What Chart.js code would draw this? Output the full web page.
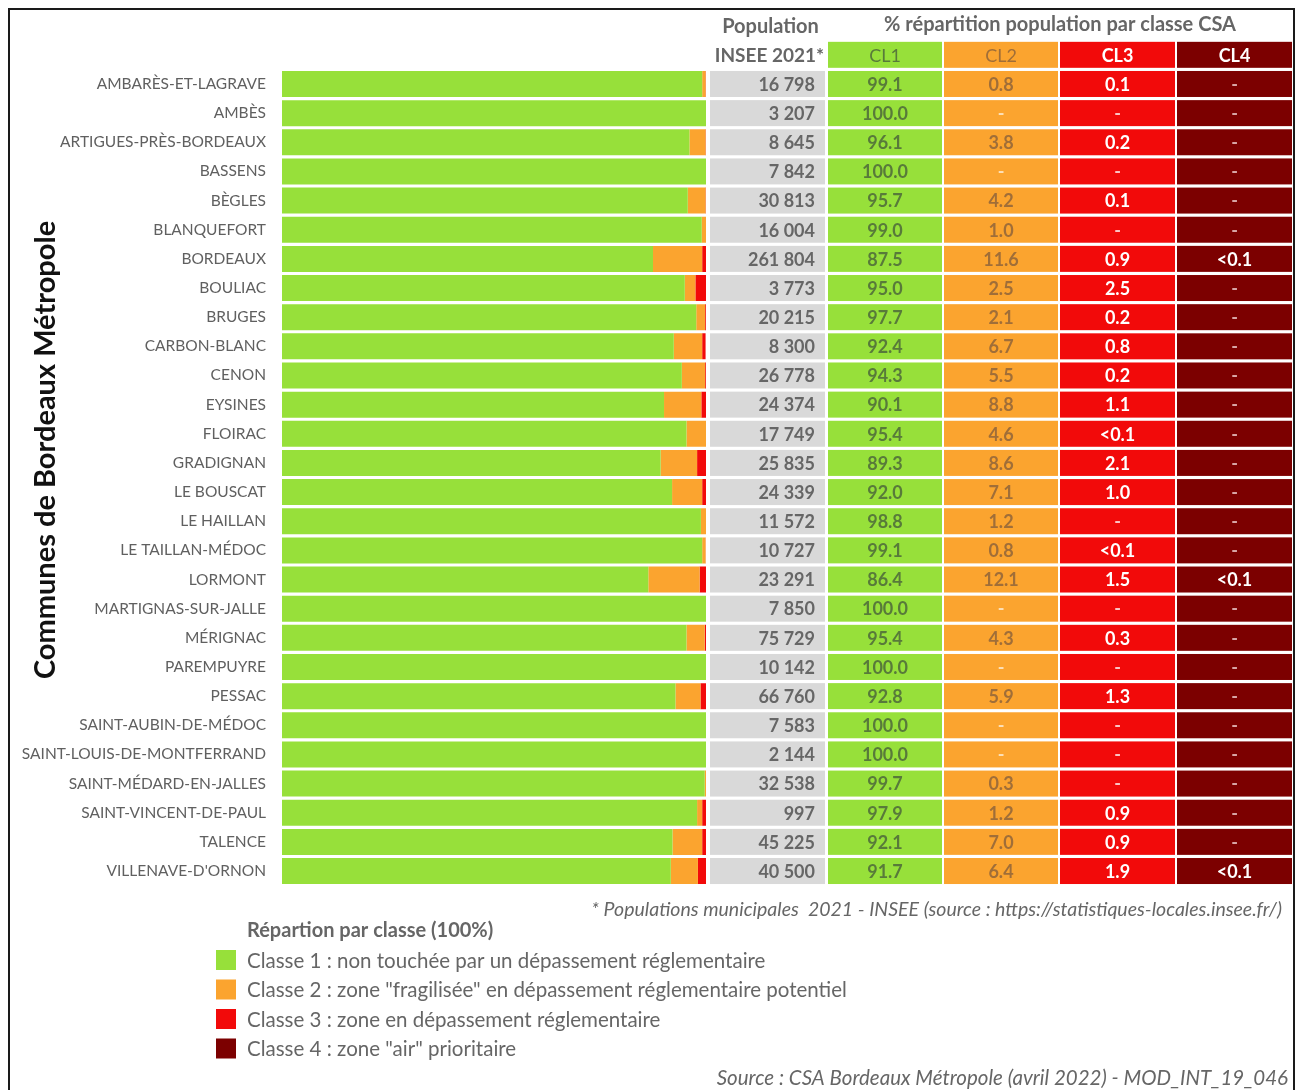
<!DOCTYPE html>
<html lang="fr">
<head>
<meta charset="utf-8">
<title>Communes de Bordeaux Métropole - répartition par classe CSA</title>
<script src="https://cdn.jsdelivr.net/npm/chart.js@4/dist/chart.umd.min.js"></script>
<style>
  html, body { margin: 0; padding: 0; background: #fff; }
  #chart { display: block; }
</style>
</head>
<body>
<canvas id="chart" width="1298" height="1090"></canvas>
<script>
const communes = [
  'AMBARÈS-ET-LAGRAVE', 'AMBÈS', 'ARTIGUES-PRÈS-BORDEAUX', 'BASSENS', 'BÈGLES',
  'BLANQUEFORT', 'BORDEAUX', 'BOULIAC', 'BRUGES', 'CARBON-BLANC', 'CENON',
  'EYSINES', 'FLOIRAC', 'GRADIGNAN', 'LE BOUSCAT', 'LE HAILLAN', 'LE TAILLAN-MÉDOC',
  'LORMONT', 'MARTIGNAS-SUR-JALLE', 'MÉRIGNAC', 'PAREMPUYRE', 'PESSAC',
  'SAINT-AUBIN-DE-MÉDOC', 'SAINT-LOUIS-DE-MONTFERRAND', 'SAINT-MÉDARD-EN-JALLES',
  'SAINT-VINCENT-DE-PAUL', 'TALENCE', "VILLENAVE-D'ORNON"
];

const population = [
  16798, 3207, 8645, 7842, 30813, 16004, 261804, 3773, 20215, 8300, 26778,
  24374, 17749, 25835, 24339, 11572, 10727, 23291, 7850, 75729, 10142, 66760,
  7583, 2144, 32538, 997, 45225, 40500
];

// % of population per CSA class; null = "-", 0.05 = "<0.1"
const cl1 = [
  99.1, 100.0, 96.1, 100.0, 95.7, 99.0, 87.5, 95.0, 97.7, 92.4, 94.3,
  90.1, 95.4, 89.3, 92.0, 98.8, 99.1, 86.4, 100.0, 95.4, 100.0, 92.8,
  100.0, 100.0, 99.7, 97.9, 92.1, 91.7
];
const cl2 = [
  0.8, null, 3.8, null, 4.2, 1.0, 11.6, 2.5, 2.1, 6.7, 5.5,
  8.8, 4.6, 8.6, 7.1, 1.2, 0.8, 12.1, null, 4.3, null, 5.9,
  null, null, 0.3, 1.2, 7.0, 6.4
];
const cl3 = [
  0.1, null, 0.2, null, 0.1, null, 0.9, 2.5, 0.2, 0.8, 0.2,
  1.1, 0.05, 2.1, 1.0, null, 0.05, 1.5, null, 0.3, null, 1.3,
  null, null, null, 0.9, 0.9, 1.9
];
const cl4 = [
  null, null, null, null, null, null, 0.05, null, null, null, null,
  null, null, null, null, null, null, 0.05, null, null, null, null,
  null, null, null, null, null, 0.05
];

const classHeaders = ['CL1', 'CL2', 'CL3', 'CL4'];
const classLabels = [
  'Classe 1 : non touchée par un dépassement réglementaire',
  'Classe 2 : zone "fragilisée" en dépassement réglementaire potentiel',
  'Classe 3 : zone en dépassement réglementaire',
  'Classe 4 : zone "air" prioritaire'
];
const classColors = ['#97E03A', '#FBA42F', '#F20A0A', '#7C0000'];
const classTextColors = ['#587A3A', '#A06E38', '#FFFFFF', '#FFFFFF'];
const dashColors = ['#E8F7D2', '#FCE0B8', '#FBC7C7', '#D9A8A8'];

const FONT = 'Lato, "Open Sans", sans-serif';
const GREY_TEXT = '#666666';

const formatPct = (v) => (v == null ? '-' : v < 0.1 ? '<0.1' : v.toFixed(1));
const formatPop = (n) => String(n).replace(/\B(?=(\d{3})+(?!\d))/g, ' ');

// table columns to the right of the bars: population + one column per class
const popCol = { x: 710, w: 115 };
const classCols = [
  { x: 828, w: 114 },
  { x: 944, w: 114 },
  { x: 1060, w: 115 },
  { x: 1177, w: 115 }
];
const ROW_H = 26;

const tablePlugin = {
  id: 'csaTable',
  beforeDraw(chart) {
    const { ctx, width, height } = chart;
    ctx.save();
    ctx.fillStyle = '#fff';
    ctx.fillRect(0, 0, width, height);
    ctx.restore();
  },
  afterDraw(chart) {
    const { ctx } = chart;
    const yScale = chart.scales.y;
    const step = yScale.getPixelForValue(1) - yScale.getPixelForValue(0);
    const series = [cl1, cl2, cl3, cl4];

    ctx.save();
    ctx.textBaseline = 'middle';

    // header rows
    const headY = yScale.getPixelForValue(0) - step;
    ctx.fillStyle = GREY_TEXT;
    ctx.textAlign = 'center';
    ctx.font = `bold 20px ${FONT}`;
    ctx.fillText('Population', popCol.x + popCol.w / 2 + 3, 27);
    ctx.fillText('% répartition population par classe CSA', 1060, 25);
    ctx.font = `bold 19px ${FONT}`;
    ctx.fillText('INSEE 2021*', popCol.x + popCol.w / 2 + 2, headY + 1);

    classCols.forEach((col, c) => {
      ctx.fillStyle = classColors[c];
      ctx.fillRect(col.x, headY - ROW_H / 2, col.w, ROW_H);
      ctx.fillStyle = classTextColors[c];
      ctx.font = `${c >= 2 ? 'bold ' : ''}18px ${FONT}`;
      ctx.fillText(classHeaders[c], col.x + col.w / 2, headY + 1);
    });

    // one table row per commune, aligned on the bar rows
    communes.forEach((name, i) => {
      const yc = yScale.getPixelForValue(i);
      const top = yc - ROW_H / 2;

      ctx.fillStyle = '#D9D9D9';
      ctx.fillRect(popCol.x, top, popCol.w, ROW_H);
      ctx.fillStyle = GREY_TEXT;
      ctx.font = `bold 18px ${FONT}`;
      ctx.textAlign = 'right';
      ctx.fillText(formatPop(population[i]), popCol.x + popCol.w - 10, yc + 1);

      ctx.textAlign = 'center';
      classCols.forEach((col, c) => {
        const v = series[c][i];
        ctx.fillStyle = classColors[c];
        ctx.fillRect(col.x, top, col.w, ROW_H);
        ctx.fillStyle = v == null ? dashColors[c] : classTextColors[c];
        ctx.font = `bold 18px ${FONT}`;
        ctx.fillText(formatPct(v), col.x + col.w / 2, yc + 1);
      });
    });

    // axis title
    ctx.save();
    ctx.translate(46, 450);
    ctx.rotate(-Math.PI / 2);
    ctx.textAlign = 'center';
    ctx.fillStyle = '#111';
    ctx.font = `bold 29px ${FONT}`;
    ctx.fillText('Communes de Bordeaux Métropole', 0, 0);
    ctx.restore();

    // notes
    ctx.fillStyle = GREY_TEXT;
    ctx.textAlign = 'right';
    ctx.font = `italic 19.5px ${FONT}`;
    ctx.fillText('* Populations municipales  2021 - INSEE (source : https://statistiques-locales.insee.fr/)', 1282, 910);
    ctx.font = `italic 20.5px ${FONT}`;
    ctx.fillText('Source : CSA Bordeaux Métropole (avril 2022) - MOD_INT_19_046', 1288, 1078);

    // legend
    ctx.textAlign = 'left';
    ctx.fillStyle = GREY_TEXT;
    ctx.font = `bold 20px ${FONT}`;
    ctx.fillText('Répartion par classe (100%)', 247, 931);
    chart.data.datasets.forEach((ds, k) => {
      const ly = 960 + k * 29.5;
      ctx.fillStyle = ds.backgroundColor;
      ctx.fillRect(216, ly - 10, 20, 20);
      ctx.fillStyle = GREY_TEXT;
      ctx.font = `20.5px ${FONT}`;
      ctx.fillText(ds.label, 247, ly + 1);
    });

    // frame
    ctx.strokeStyle = '#1a1a1a';
    ctx.lineWidth = 2;
    ctx.strokeRect(9, 9, 1285, 1100);
    ctx.restore();
  }
};

const toBar = (arr) => arr.map((v) => (v == null ? 0 : v));

new Chart(document.getElementById('chart'), {
  type: 'bar',
  data: {
    labels: communes,
    datasets: [cl1, cl2, cl3, cl4].map((arr, c) => ({
      label: classLabels[c],
      data: toBar(arr),
      backgroundColor: classColors[c],
      borderWidth: 0,
      categoryPercentage: 1,
      barPercentage: ROW_H / 29.15
    }))
  },
  options: {
    indexAxis: 'y',
    responsive: false,
    animation: false,
    layout: {
      padding: { top: 69.4, bottom: 204.4, left: 0, right: 592 }
    },
    plugins: {
      legend: { display: false },
      tooltip: { enabled: false }
    },
    scales: {
      x: {
        stacked: true,
        min: 0,
        max: 100,
        display: false
      },
      y: {
        stacked: true,
        grid: { display: false, drawTicks: false },
        border: { display: false },
        ticks: {
          autoSkip: false,
          padding: 16,
          color: '#606060',
          font: { family: FONT, size: 15.5 }
        },
        afterFit(scale) {
          scale.width = 282;
        }
      }
    }
  },
  plugins: [tablePlugin]
});
</script>
</body>
</html>
